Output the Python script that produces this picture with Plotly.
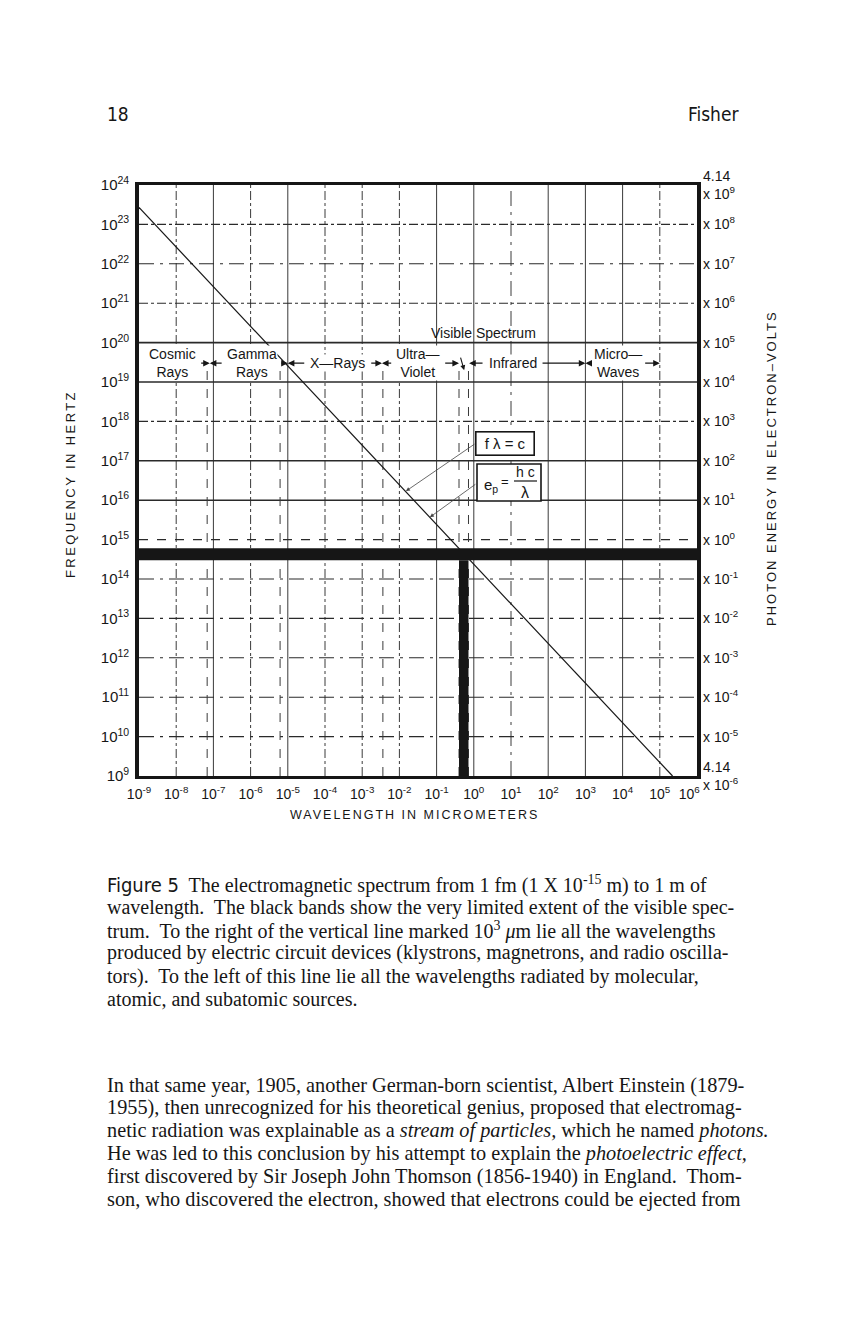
import math
import plotly.graph_objects as go

# ---------------- data ----------------
wavelength_ticks_um = [1e-9, 1e-8, 1e-7, 1e-6, 1e-5, 1e-4, 1e-3, 1e-2, 1e-1,
                       1e0, 1e1, 1e2, 1e3, 1e4, 1e5, 1e6]
wavelength_tick_labels = ["10<sup>-9</sup>", "10<sup>-8</sup>", "10<sup>-7</sup>",
                          "10<sup>-6</sup>", "10<sup>-5</sup>", "10<sup>-4</sup>",
                          "10<sup>-3</sup>", "10<sup>-2</sup>", "10<sup>-1</sup>",
                          "10<sup>0</sup>", "10<sup>1</sup>", "10<sup>2</sup>",
                          "10<sup>3</sup>", "10<sup>4</sup>", "10<sup>5</sup>",
                          "10<sup>6</sup>\u2007\u2007"]
frequency_ticks_hz = [1e9, 1e10, 1e11, 1e12, 1e13, 1e14, 1e15, 1e16, 1e17,
                      1e18, 1e19, 1e20, 1e21, 1e22, 1e23, 1e24]
frequency_tick_labels = ["10<sup>9</sup>", "10<sup>10</sup>", "10<sup>11</sup>",
                         "10<sup>12</sup>", "10<sup>13</sup>", "10<sup>14</sup>",
                         "10<sup>15</sup>", "10<sup>16</sup>", "10<sup>17</sup>",
                         "10<sup>18</sup>", "10<sup>19</sup>", "10<sup>20</sup>",
                         "10<sup>21</sup>", "10<sup>22</sup>", "10<sup>23</sup>",
                         "10<sup>24</sup>"]
energy_tick_labels = ["4.14<br>x 10<sup>-6</sup>", "x 10<sup>-5</sup>", "x 10<sup>-4</sup>",
                      "x 10<sup>-3</sup>", "x 10<sup>-2</sup>", "x 10<sup>-1</sup>",
                      "x 10<sup>0</sup>", "x 10<sup>1</sup>", "x 10<sup>2</sup>",
                      "x 10<sup>3</sup>", "x 10<sup>4</sup>", "x 10<sup>5</sup>",
                      "x 10<sup>6</sup>", "x 10<sup>7</sup>", "x 10<sup>8</sup>",
                      "4.14<br>x 10<sup>9</sup>"]

# f * lambda = c line (end points)
line_wavelength_um = [1e-9, 2.2e5]
line_frequency_hz = [2.7e23, 1e9]

# visible spectrum black bands
visible_wavelength_um = [0.4, 0.72]
visible_frequency_hz = [3.0e14, 6.0e14]

# spectral regions in the label row
band_names = ["Cosmic<br>Rays", "Gamma<br>Rays", "X\u2014Rays", "Ultra\u2014<br>Violet",
              "Infrared", "Micro\u2014<br>Waves"]
band_label_um = [7.8e-9, 1.1e-6, 2.2e-4, 3.2e-2, 11.0, 7.6e3]
band_start_um = [6e-10, 8e-8, 1e-5, 3.4e-3, 0.75, 1e3]
band_end_um = [8e-8, 1e-5, 3.4e-3, 0.4, 1e3, 1e5]
band_row_hz = 3.0e19
band_divider_um = [6.8e-8, 6.2e-6, 3.6e-3, 0.4, 0.72]

# grid line styles per decade
x_grid_um = [1e-8, 1e-7, 1e-6, 1e-5, 1e-4, 1e-3, 1e-2, 1e-1, 1e0, 1e1, 1e2, 1e3, 1e4, 1e5]
x_grid_dash = ["dashdot", "solid", "dashdot", "solid", "dashdot", "dashdot", "dashdot",
               "solid", "solid", "longdashdot", "solid", "solid", "solid", "dashdot"]
y_grid_hz = [1e10, 1e11, 1e12, 1e13, 1e14, 1e15, 1e16, 1e17, 1e18, 1e19, 1e20, 1e21, 1e22, 1e23]
y_grid_dash = ["longdashdot", "longdashdot", "longdashdot", "longdashdot", "longdashdot", "dash",
               "solid", "solid", "dashdot", "solid", "solid", "dashdot", "longdashdot", "dashdot"]

# formula arrow targets on the line
formula_target_um = [1.5e-2, 6.6e-2]
formula_target_hz = [1.7e16, 3.7e15]

caption_lines = [
    "<span style='font-family:Liberation Sans Narrow, DejaVu Sans Condensed, sans-serif'>Figure 5</span>"
    "  The electromagnetic spectrum from 1 fm (1 X 10<sup>-15</sup> m) to 1 m of",
    "wavelength.  The black bands show the very limited extent of the visible spec-",
    "trum.  To the right of the vertical line marked 10<sup>3</sup> <i>\u03bc</i>m lie all the wavelengths",
    "produced by electric circuit devices (klystrons, magnetrons, and radio oscilla-",
    "tors).  To the left of this line lie all the wavelengths radiated by molecular,",
    "atomic, and subatomic sources.",
]
body_lines = [
    "In that same year, 1905, another German-born scientist, Albert Einstein (1879-",
    "1955), then unrecognized for his theoretical genius, proposed that electromag-",
    "netic radiation was explainable as a <i>stream of particles,</i> which he named <i>photons.</i>",
    "He was led to this conclusion by his attempt to explain the <i>photoelectric effect,</i>",
    "first discovered by Sir Joseph John Thomson (1856-1940) in England.  Thom-",
    "son, who discovered the electron, showed that electrons could be ejected from",
]

# ---------------- layout helpers ----------------
L, R, T, B = 139, 697, 185, 776
W, H = R - L, B - T
SANS = "Liberation Sans, Arial, Helvetica, sans-serif"
NARROW = "Liberation Sans Narrow, DejaVu Sans Condensed, Liberation Sans, sans-serif"
SERIF = "Liberation Serif, Times New Roman, serif"
INK = "#161616"


def px(x):
    return (x - L) / W


def py(y):
    return (B - y) / H


def xpix(um):
    return L + (math.log10(um) + 9) / 15 * W


def note(x, y, text, size=14, family=SANS, xanchor="center", yanchor="middle", **kw):
    d = dict(x=px(x), y=py(y), xref="paper", yref="paper", text=text, showarrow=False,
             xanchor=xanchor, yanchor=yanchor, font=dict(family=family, size=size, color=INK))
    d.update(kw)
    return d


fig = go.Figure()

fig.add_trace(go.Scatter(x=line_wavelength_um, y=line_frequency_hz, mode="lines",
                         line=dict(color=INK, width=1.2), hoverinfo="skip"))
fig.add_trace(go.Scatter(x=[1e-9, 1e6], y=[1e9, 1e24], yaxis="y2", mode="markers",
                         marker=dict(opacity=0), hoverinfo="skip"))

shapes = []
for xv, d in zip(x_grid_um, x_grid_dash):
    shapes.append(dict(type="line", xref="x", yref="y", x0=xv, x1=xv, y0=1e9, y1=1e24,
                       line=dict(color="#3a3a3a", width=1, dash=d), layer="below"))
for yv, d in zip(y_grid_hz, y_grid_dash):
    w = 1.6 if d == "solid" else 1.1
    shapes.append(dict(type="line", xref="x", yref="y", x0=1e-9, x1=1e6, y0=yv, y1=yv,
                       line=dict(color="#2a2a2a", width=w, dash=d), layer="below"))
for xv in band_divider_um:
    shapes.append(dict(type="line", xref="x", yref="y", x0=xv, x1=xv, y0=1e9, y1=band_row_hz,
                       line=dict(color="#3a3a3a", width=1, dash="dash"), layer="below"))
# visible spectrum bands
shapes.append(dict(type="rect", xref="x", yref="y", x0=1e-9, x1=1e6,
                   y0=visible_frequency_hz[0], y1=visible_frequency_hz[1],
                   fillcolor=INK, line=dict(width=0), layer="above"))
shapes.append(dict(type="rect", xref="x", yref="y", x0=visible_wavelength_um[0],
                   x1=visible_wavelength_um[1], y0=1e9, y1=visible_frequency_hz[0],
                   fillcolor=INK, line=dict(width=0), layer="above"))
# e_p = hc / lambda box
shapes.append(dict(type="rect", xref="paper", yref="paper", x0=px(477), x1=px(541),
                   y0=py(501), y1=py(464), fillcolor="white",
                   line=dict(color=INK, width=1.6), layer="above"))
shapes.append(dict(type="line", xref="paper", yref="paper", x0=px(514), x1=px(537),
                   y0=py(481), y1=py(481), line=dict(color=INK, width=1.2), layer="above"))

ann = []
# band labels + range arrows
label_w = [49, 52, 58, 45, 51, 45]
row_y = math.log10(band_row_hz)
for name, lab, s, e, w in zip(band_names, band_label_um, band_start_um, band_end_um, label_w):
    ann.append(dict(x=math.log10(lab), y=row_y, xref="x", yref="y", text=name,
                    showarrow=False, xanchor="center", yanchor="middle",
                    font=dict(family=SANS, size=14, color=INK),
                    bgcolor="white", borderpad=0))
    cx = xpix(lab)
    lx = xpix(s)
    rx = xpix(e)
    axl = max(8, (cx - w / 2 - 3) - lx)
    axr = min(-8, (cx + w / 2 + 3) - rx)
    for head, off in ((s, axl), (e, axr)):
        ann.append(dict(x=math.log10(head), y=row_y, xref="x", yref="y", text="",
                        showarrow=True, ax=off, ay=0, arrowhead=2, arrowsize=1.1,
                        arrowwidth=1.2, arrowcolor=INK, standoff=0))

ann.append(note(483, 333, "Visible Spectrum", size=14))
ann.append(dict(x=math.log10(0.55), y=math.log10(2.0e19), xref="x", yref="y", text="",
                showarrow=True, ax=-4, ay=-14, arrowhead=2, arrowsize=0.9,
                arrowwidth=1.1, arrowcolor=INK))

# formulas
ann.append(note(505, 443.5, "f \u03bb = c", size=15, bgcolor="white", bordercolor=INK,
                borderwidth=1.6, borderpad=2, width=53, height=18))
ann.append(note(491, 485, "e<sub>p</sub>", size=15))
ann.append(note(505, 481, "=", size=13))
ann.append(note(525, 472, "h c", size=14))
ann.append(note(525, 492, "\u03bb", size=16))
for tx, ty, offx, offy in zip(formula_target_um, formula_target_hz, [70, 47], [-48, -34]):
    ann.append(dict(x=math.log10(tx), y=math.log10(ty), xref="x", yref="y", text="",
                    showarrow=True, ax=offx, ay=offy, arrowhead=2, arrowsize=1,
                    arrowwidth=0.8, arrowcolor="#444"))

# axis titles
ann.append(note(414, 815, "<span style='letter-spacing:2px'>WAVELENGTH IN MICROMETERS</span>",
                size=12.5))
ann.append(note(70, 484, "<span style='letter-spacing:2.4px'>FREQUENCY IN HERTZ</span>",
                size=13, textangle=-90))
ann.append(note(771, 468, "<span style='letter-spacing:2px'>PHOTON ENERGY IN ELECTRON\u2013VOLTS</span>",
                size=13, textangle=-90))

# page header
ann.append(note(105, 114, "18", size=19, family=NARROW, xanchor="left"))
ann.append(note(741, 114, "Fisher", size=19, family=NARROW, xanchor="right"))

# caption and body text
for i, t in enumerate(caption_lines):
    ann.append(note(105, 884 + 23 * i, t, size=20, family=SERIF, xanchor="left"))
for i, t in enumerate(body_lines):
    ann.append(note(105, 1085 + 22.9 * i, t, size=20.3, family=SERIF, xanchor="left"))

fig.update_layout(
    width=849, height=1342,
    margin=dict(l=L, r=849 - R, t=T, b=1342 - B, pad=0),
    paper_bgcolor="white", plot_bgcolor="white", showlegend=False,
    shapes=shapes, annotations=ann,
    xaxis=dict(type="log", range=[-9, 6], tickvals=wavelength_ticks_um,
               ticktext=wavelength_tick_labels, tickangle=0, showgrid=False, zeroline=False,
               showline=True, mirror=True, linecolor=INK, linewidth=3.2, ticks="",
               ticklabelstandoff=3, tickfont=dict(family=SANS, size=14, color=INK)),
    yaxis=dict(type="log", range=[9, 24], tickvals=frequency_ticks_hz,
               ticktext=frequency_tick_labels, showgrid=False, zeroline=False,
               showline=True, mirror=True, linecolor=INK, linewidth=3.6, ticks="",
               ticklabelstandoff=3, tickfont=dict(family=SANS, size=15, color=INK)),
    yaxis2=dict(type="log", range=[9, 24], overlaying="y", side="right",
                tickvals=frequency_ticks_hz, ticktext=energy_tick_labels,
                showgrid=False, zeroline=False, showline=False, ticks="",
                ticklabelstandoff=5, tickfont=dict(family=SANS, size=14, color=INK)),
)

fig.write_html("out.html")
